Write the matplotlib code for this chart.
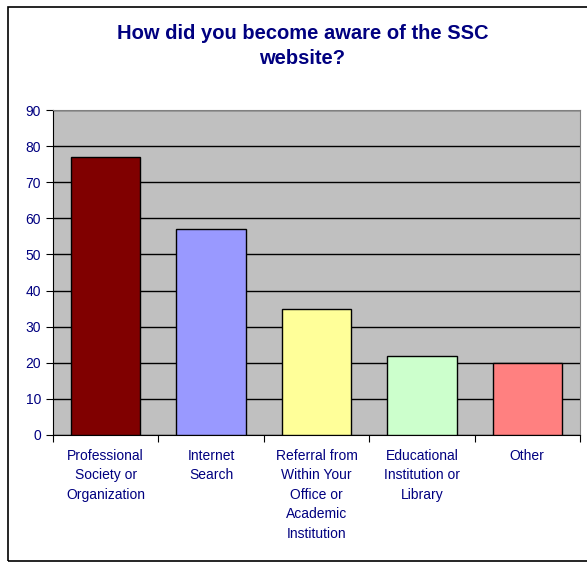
import matplotlib
matplotlib.use("Agg")
import matplotlib.pyplot as plt
from matplotlib.patches import Rectangle
from matplotlib.ticker import FixedLocator, NullFormatter

categories = ["Professional\nSociety or\nOrganization", "Internet\nSearch",
              "Referral from\nWithin Your\nOffice or\nAcademic\nInstitution",
              "Educational\nInstitution or\nLibrary", "Other"]
counts = [77, 57, 35, 22, 20]
colors = ["#800000", "#9999FF", "#FFFF99", "#CCFFCC", "#FF8080"]
navy = "#000080"

plt.rcParams["font.family"] = ["Liberation Sans", "DejaVu Sans"]

fig = plt.figure(figsize=(5.87, 5.63), dpi=100)
fig.patch.set_facecolor("white")
ax = fig.add_axes([53/587, 1-435/563, 527/587, 325/563])
ax.set_facecolor("#C0C0C0")

x = list(range(len(counts)))
ax.set_axisbelow(True)
ax.yaxis.grid(True, color="black", linewidth=1)
ax.bar(x, counts, width=0.66, color=colors, edgecolor="black", linewidth=1, zorder=3)

ax.set_ylim(0, 90)
ax.set_xlim(-0.5, len(counts) - 0.5)
ax.set_yticks(range(0, 91, 10))
ax.tick_params(axis="y", direction="out", length=5, colors="black", labelcolor=navy, labelsize=10)

ax.xaxis.set_major_locator(FixedLocator([i - 0.5 for i in range(len(counts) + 1)]))
ax.xaxis.set_major_formatter(NullFormatter())
ax.xaxis.set_minor_locator(FixedLocator(x))
ax.set_xticklabels(categories, minor=True, color=navy, fontsize=10, linespacing=1.5, va="top")
ax.tick_params(axis="x", which="major", direction="out", length=5)
ax.tick_params(axis="x", which="minor", length=0, pad=10)

for s in ["top", "right"]:
    ax.spines[s].set_color("#808080")
for s in ["left", "bottom"]:
    ax.spines[s].set_color("black")

fig.text(0.515, 1 - 46/563, "How did you become aware of the SSC\nwebsite?", ha="center", va="center",
         color=navy, fontsize=14.5, fontweight="bold", linespacing=1.4)

fig.patches.append(Rectangle((8/587, 1-561/563), 590/587, 554/563, transform=fig.transFigure,
                             fill=False, edgecolor="black", linewidth=1.2))

fig.savefig("out.png", dpi=100)
